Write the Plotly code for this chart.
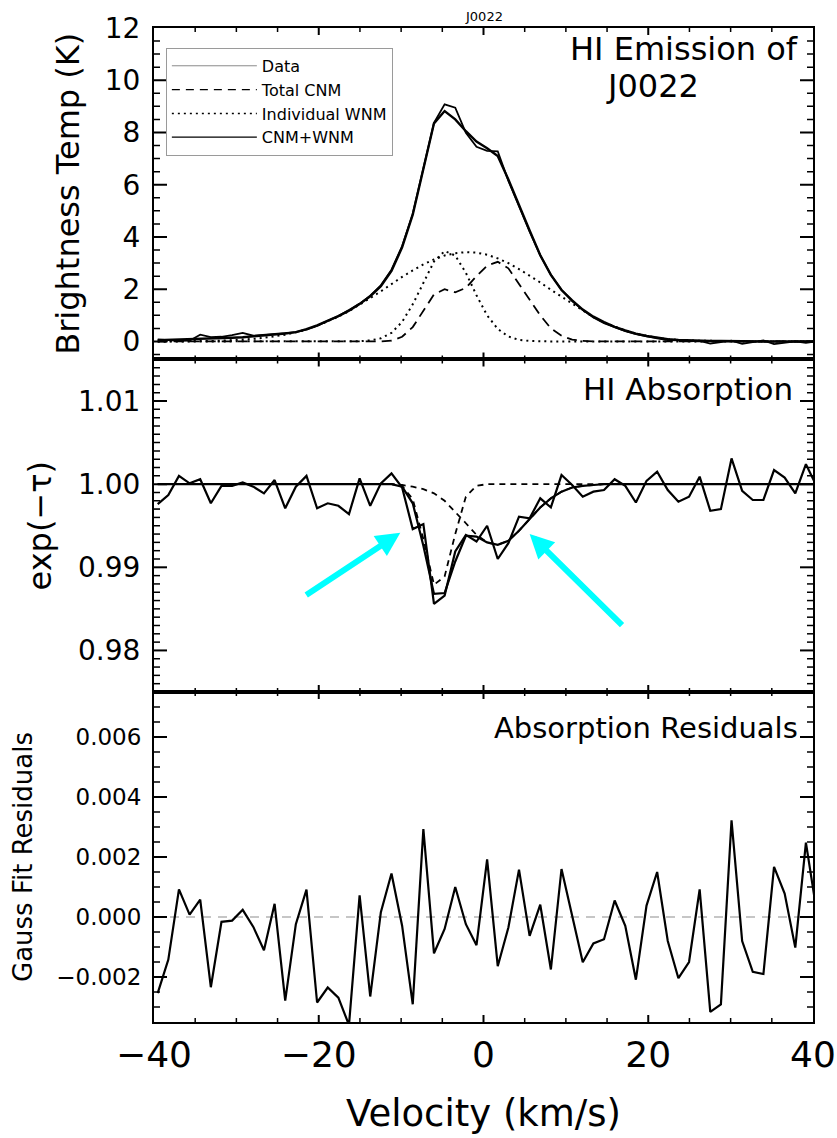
import plotly.graph_objects as go

# ---------------------------------------------------------------- channels
velocity = [
    -39.55, -38.26, -36.97, -35.68, -34.39, -33.10, -31.81, -30.52, -29.23,
    -27.94, -26.65, -25.36, -24.07, -22.78, -21.49, -20.20, -18.91, -17.62,
    -16.33, -15.04, -13.75, -12.46, -11.17, -9.88, -8.59, -7.30, -6.01,
    -4.72, -3.43, -2.14, -0.85, 0.44, 1.73, 3.02, 4.31, 5.60, 6.89, 8.18,
    9.47, 10.76, 12.05, 13.34, 14.63, 15.92, 17.21, 18.50, 19.79, 21.08,
    22.37, 23.66, 24.95, 26.24, 27.53, 28.82, 30.11, 31.40, 32.69, 33.98,
    35.27, 36.56, 37.85, 39.14, 40.43,
]

# ---------------------------------------------------------------- emission (K)
tb_data = [
    0.08, 0.06, 0.02, 0.03, 0.26, 0.17, 0.18, 0.24, 0.33, 0.22, 0.26, 0.30,
    0.33, 0.36, 0.45, 0.60, 0.79, 0.97, 1.20, 1.45, 1.75, 2.15, 2.75, 3.65,
    4.90, 6.70, 8.37, 9.08, 8.95, 7.99, 7.45, 7.30, 7.28, 6.15, 5.15, 4.20,
    3.30, 2.55, 1.98, 1.55, 1.20, 0.92, 0.70, 0.54, 0.40, 0.28, 0.19, 0.12,
    0.05, 0.04, 0.00, 0.02, -0.08, -0.02, 0.03, -0.09, -0.03, 0.04, -0.10,
    -0.04, 0.00, -0.05, 0.00,
]
tb_fit = [
    0.05, 0.06, 0.07, 0.08, 0.09, 0.10, 0.12, 0.14, 0.16, 0.19, 0.22, 0.26,
    0.30, 0.36, 0.47, 0.62, 0.78, 0.97, 1.18, 1.43, 1.73, 2.12, 2.70, 3.60,
    4.85, 6.60, 8.35, 8.82, 8.50, 8.05, 7.65, 7.40, 7.10, 6.20, 5.20, 4.25,
    3.30, 2.55, 1.97, 1.57, 1.22, 0.95, 0.74, 0.56, 0.42, 0.30, 0.21, 0.14,
    0.09, 0.06, 0.04, 0.03, 0.02, 0.02, 0.01, 0.01, 0.01, 0.00, 0.00, 0.00,
    0.00, 0.00, 0.00,
]
tb_cnm_total = [
    0.00, 0.00, 0.00, 0.00, 0.00, 0.00, 0.00, 0.00, 0.00, 0.00, 0.00, 0.00,
    0.00, 0.00, 0.00, 0.00, 0.00, 0.00, 0.00, 0.00, 0.00, 0.00, 0.03, 0.18,
    0.55, 1.20, 1.80, 2.00, 1.88, 2.05, 2.50, 2.90, 3.05, 2.80, 2.20, 1.55,
    1.00, 0.50, 0.22, 0.07, 0.02, 0.00, 0.00, 0.00, 0.00, 0.00, 0.00, 0.00,
    0.00, 0.00, 0.00, 0.00, 0.00, 0.00, 0.00, 0.00, 0.00, 0.00, 0.00, 0.00,
    0.00, 0.00, 0.00,
]
tb_wnm_broad = [
    0.00, 0.00, 0.01, 0.01, 0.01, 0.02, 0.03, 0.05, 0.07, 0.10, 0.14, 0.19,
    0.26, 0.35, 0.46, 0.60, 0.76, 0.95, 1.16, 1.40, 1.66, 1.92, 2.20, 2.47,
    2.72, 2.95, 3.14, 3.29, 3.38, 3.42, 3.40, 3.32, 3.18, 3.00, 2.77, 2.52,
    2.26, 1.98, 1.71, 1.45, 1.18, 0.93, 0.73, 0.56, 0.42, 0.30, 0.21, 0.14,
    0.09, 0.06, 0.04, 0.03, 0.02, 0.01, 0.00, 0.00, 0.00, 0.00, 0.00, 0.00,
    0.00, 0.00, 0.00,
]
tb_wnm_narrow = [
    0.00, 0.00, 0.00, 0.00, 0.00, 0.00, 0.00, 0.00, 0.00, 0.00, 0.00, 0.00,
    0.00, 0.00, 0.00, 0.00, 0.00, 0.00, 0.00, 0.01, 0.04, 0.12, 0.33, 0.75,
    1.42, 2.27, 3.06, 3.46, 3.29, 2.63, 1.77, 1.00, 0.48, 0.19, 0.06, 0.02,
    0.00, 0.00, 0.00, 0.00, 0.00, 0.00, 0.00, 0.00, 0.00, 0.00, 0.00, 0.00,
    0.00, 0.00, 0.00, 0.00, 0.00, 0.00, 0.00, 0.00, 0.00, 0.00, 0.00, 0.00,
    0.00, 0.00, 0.00,
]

# ---------------------------------------------------------------- absorption exp(-tau)
abs_data = [
    0.9976, 0.9987, 1.0010, 1.0001, 1.0006, 0.9977, 0.9998, 0.9998, 1.0002,
    0.9997, 0.9989, 1.0005, 0.9971, 0.9997, 1.0010, 0.9971, 0.9977, 0.9974,
    0.9964, 1.0007, 0.9974, 1.0001, 1.0013, 0.9996, 0.9946, 0.9952, 0.9856,
    0.9866, 0.9919, 0.9939, 0.9931, 0.9950, 0.9910, 0.9929, 0.9961, 0.9959,
    0.9983, 0.9972, 1.0011, 0.9999, 0.9985, 0.9991, 0.9993, 1.0006, 0.9998,
    0.9978, 1.0004, 1.0015, 0.9993, 0.9979, 0.9985, 1.0009, 0.9968, 0.9970,
    1.0031, 0.9992, 0.9981, 0.9981, 1.0017, 1.0008, 0.9989, 1.0024, 0.9998,
]
abs_fit = [
    1.0000, 1.0000, 1.0000, 1.0000, 1.0000, 1.0000, 1.0000, 1.0000, 1.0000,
    1.0000, 1.0000, 1.0000, 1.0000, 1.0000, 1.0000, 1.0000, 1.0000, 1.0000,
    1.0000, 1.0000, 1.0000, 1.0000, 1.0000, 0.9997, 0.9977, 0.9926, 0.9868,
    0.9869, 0.9907, 0.9938, 0.9937, 0.9930, 0.9927, 0.9932, 0.9944, 0.9958,
    0.9972, 0.9983, 0.9991, 0.9996, 0.9998, 0.9999, 1.0000, 1.0000, 1.0000,
    1.0000, 1.0000, 1.0000, 1.0000, 1.0000, 1.0000, 1.0000, 1.0000, 1.0000,
    1.0000, 1.0000, 1.0000, 1.0000, 1.0000, 1.0000, 1.0000, 1.0000, 1.0000,
]
abs_comp_narrow = [
    1.0000, 1.0000, 1.0000, 1.0000, 1.0000, 1.0000, 1.0000, 1.0000, 1.0000,
    1.0000, 1.0000, 1.0000, 1.0000, 1.0000, 1.0000, 1.0000, 1.0000, 1.0000,
    1.0000, 1.0000, 1.0000, 1.0000, 1.0000, 0.9998, 0.9982, 0.9934, 0.9879,
    0.9889, 0.9940, 0.9985, 0.9998, 1.0000, 1.0000, 1.0000, 1.0000, 1.0000,
    1.0000, 1.0000, 1.0000, 1.0000, 1.0000, 1.0000, 1.0000, 1.0000, 1.0000,
    1.0000, 1.0000, 1.0000, 1.0000, 1.0000, 1.0000, 1.0000, 1.0000, 1.0000,
    1.0000, 1.0000, 1.0000, 1.0000, 1.0000, 1.0000, 1.0000, 1.0000, 1.0000,
]
abs_comp_broad = [
    1.0000, 1.0000, 1.0000, 1.0000, 1.0000, 1.0000, 1.0000, 1.0000, 1.0000,
    1.0000, 1.0000, 1.0000, 1.0000, 1.0000, 1.0000, 1.0000, 1.0000, 1.0000,
    1.0000, 1.0000, 1.0000, 1.0000, 1.0000, 0.9999, 0.9997, 0.9994, 0.9989,
    0.9980, 0.9967, 0.9953, 0.9939, 0.9930, 0.9927, 0.9932, 0.9944, 0.9958,
    0.9972, 0.9983, 0.9991, 0.9996, 0.9998, 0.9999, 1.0000, 1.0000, 1.0000,
    1.0000, 1.0000, 1.0000, 1.0000, 1.0000, 1.0000, 1.0000, 1.0000, 1.0000,
    1.0000, 1.0000, 1.0000, 1.0000, 1.0000, 1.0000, 1.0000, 1.0000, 1.0000,
]

# ---------------------------------------------------------------- fit residuals
abs_residual = [
    -0.00254, -0.00142, 0.00092, 0.00008, 0.00058, -0.00234, -0.00016,
    -0.00012, 0.00024, -0.00033, -0.00111, 0.00044, -0.00279, -0.00024,
    0.00091, -0.00285, -0.00235, -0.00269, -0.00360, 0.00072, -0.00265,
    0.00016, 0.00145, -0.00029, -0.00291, 0.00293, -0.00121, -0.00040,
    0.00100, -0.00024, -0.00094, 0.00192, -0.00164, -0.00035, 0.00158,
    -0.00063, 0.00041, -0.00175, 0.00160, 0.00001, -0.00151, -0.00088,
    -0.00074, 0.00055, -0.00029, -0.00209, 0.00038, 0.00150, -0.00080,
    -0.00204, -0.00150, 0.00092, -0.00316, -0.00291, 0.00322, -0.00080,
    -0.00183, -0.00190, 0.00167, 0.00078, -0.00102, 0.00248, 0.00020,
]

# arrows pointing at the broad absorption wings: (tip_v, tip_y, tail_v, tail_y)
wing_arrows = [
    (-10.1, 0.99415, -21.7, 0.98655),
    (5.6, 0.99400, 17.0, 0.98287),
]

# axis ranges and tick spacing (major, minor) for each panel
V_RANGE = (-40, 40)
V_TICKS = (20, 5)
TB_RANGE = (-0.69, 12)
TB_TICKS = (2, 0.5)
ABS_RANGE = (0.975, 1.015)
ABS_TICKS = (0.01, 0.001)
RES_RANGE = (-0.0035, 0.0075)
RES_TICKS = (0.002, 0.0005)

FONT = "DejaVu Sans"
INK = "#000000"
TICK_INK = INK

fig = go.Figure()

# ----- emission panel
fig.add_trace(go.Scatter(x=velocity, y=tb_cnm_total, mode="lines", xaxis="x", yaxis="y",
                         line=dict(color=INK, width=1.8, dash="10px,6px"), showlegend=False))
fig.add_trace(go.Scatter(x=velocity, y=tb_wnm_broad, mode="lines", xaxis="x", yaxis="y",
                         line=dict(color=INK, width=2, dash="2px,4px"), showlegend=False))
fig.add_trace(go.Scatter(x=velocity, y=tb_wnm_narrow, mode="lines", xaxis="x", yaxis="y",
                         line=dict(color=INK, width=2, dash="2px,4px"), showlegend=False))
fig.add_trace(go.Scatter(x=velocity, y=tb_data, mode="lines", xaxis="x", yaxis="y",
                         line=dict(color=INK, width=1.8), showlegend=False))
fig.add_trace(go.Scatter(x=velocity, y=tb_fit, mode="lines", xaxis="x", yaxis="y",
                         line=dict(color=INK, width=2.4), showlegend=False))

# legend entries
legend_styles = [
    ("Data", dict(color="#8a8a8a", width=1)),
    ("Total CNM", dict(color=INK, width=1.3, dash="8px,6px")),
    ("Individual WNM", dict(color=INK, width=1.5, dash="2px,4px")),
    ("CNM+WNM", dict(color=INK, width=1.3)),
]
for name, style in legend_styles:
    fig.add_trace(go.Scatter(x=[None], y=[None], mode="lines", name=name, line=style,
                             xaxis="x", yaxis="y"))

# ----- absorption panel
fig.add_trace(go.Scatter(x=velocity, y=abs_comp_narrow, mode="lines", xaxis="x2", yaxis="y2",
                         line=dict(color=INK, width=1.8, dash="6px,5px"), showlegend=False))
fig.add_trace(go.Scatter(x=velocity, y=abs_comp_broad, mode="lines", xaxis="x2", yaxis="y2",
                         line=dict(color=INK, width=1.8, dash="6px,5px"), showlegend=False))
fig.add_trace(go.Scatter(x=velocity, y=abs_fit, mode="lines", xaxis="x2", yaxis="y2",
                         line=dict(color=INK, width=2.2), showlegend=False))
fig.add_trace(go.Scatter(x=velocity, y=abs_data, mode="lines", xaxis="x2", yaxis="y2",
                         line=dict(color=INK, width=2.2), showlegend=False))

# ----- residual panel
fig.add_trace(go.Scatter(x=velocity, y=abs_residual, mode="lines", xaxis="x3", yaxis="y3",
                         line=dict(color=INK, width=2.2), showlegend=False))

shapes = [dict(type="line", xref="x3 domain", yref="y3", x0=0, x1=1, y0=0, y1=0,
               line=dict(color="#b4b4b4", width=1.5, dash="9px,7px"), layer="below")]


def tick_values(lo, hi, step):
    """Multiples of step strictly inside (lo, hi)."""
    k0 = int(lo / step) - 1
    k1 = int(hi / step) + 1
    vals = [round(k * step, 6) for k in range(k0, k1 + 1)]
    eps = step * 1e-3
    return [v for v in vals if lo + eps < v < hi - eps]


def add_ticks(axis_id, rng, steps, is_x, major_len, minor_len):
    """IDL-style inward ticks on both edges of a panel."""
    major, minor = steps
    majors = tick_values(rng[0], rng[1], major)
    minors = [v for v in tick_values(rng[0], rng[1], minor)
              if all(abs(v - m) > minor * 1e-3 for m in majors)]
    other_ref = ("y" if is_x else "x") + axis_id[1:] + " domain"
    for vals, length, width in ((majors, major_len, 2), (minors, minor_len, 1.5)):
        for v in vals:
            for anchor, sign in ((0, 1), (1, -1)):
                if is_x:
                    shapes.append(dict(type="line", xref=axis_id, yref=other_ref,
                                       ysizemode="pixel", yanchor=anchor, y0=0,
                                       y1=sign * length, x0=v, x1=v,
                                       line=dict(color=TICK_INK, width=width), layer="above"))
                else:
                    shapes.append(dict(type="line", xref=other_ref, yref=axis_id,
                                       xsizemode="pixel", xanchor=anchor, x0=0,
                                       x1=sign * length, y0=v, y1=v,
                                       line=dict(color=TICK_INK, width=width), layer="above"))


for xid in ("x", "x2", "x3"):
    add_ticks(xid, V_RANGE, V_TICKS, True, 7, 4)
add_ticks("y", TB_RANGE, TB_TICKS, False, 13, 6)
add_ticks("y2", ABS_RANGE, ABS_TICKS, False, 13, 6)
add_ticks("y3", RES_RANGE, RES_TICKS, False, 13, 6)

xcommon = dict(range=list(V_RANGE), tick0=0, dtick=V_TICKS[0], ticks="", showline=True,
               linewidth=2, linecolor=INK, mirror=True, showgrid=False, zeroline=False)
ycommon = dict(ticks="", showline=True, linewidth=2, linecolor=INK, mirror=True,
               showgrid=False, zeroline=False, ticklabelstandoff=6)

fig.update_layout(
    width=837, height=1138,
    margin=dict(l=154, r=24, t=28, b=116, autoexpand=False),
    paper_bgcolor="white", plot_bgcolor="white",
    font=dict(family=FONT, color=INK),
    shapes=shapes,
    xaxis=dict(xcommon, domain=[0, 1], anchor="y", showticklabels=False),
    xaxis2=dict(xcommon, domain=[0, 1], anchor="y2", showticklabels=False),
    xaxis3=dict(xcommon, domain=[0, 1], anchor="y3", showticklabels=True,
                tickfont=dict(size=36), ticklabelstandoff=0,
                title=dict(text="Velocity (km/s)", font=dict(size=37), standoff=26)),
    yaxis=dict(ycommon, domain=[0.6665, 1], anchor="x", range=list(TB_RANGE), tick0=0,
               dtick=TB_TICKS[0], tickfont=dict(size=28),
               title=dict(text="Brightness Temp (K)", font=dict(size=32), standoff=16)),
    yaxis2=dict(ycommon, domain=[0.332, 0.6665], anchor="x2", range=list(ABS_RANGE), tick0=1,
                dtick=ABS_TICKS[0], tickformat=".2f", tickfont=dict(size=28),
                title=dict(text="exp(\u2212\u03c4)", font=dict(size=32), standoff=17)),
    yaxis3=dict(ycommon, domain=[0, 0.332], anchor="x3", range=list(RES_RANGE), tick0=0,
                dtick=RES_TICKS[0], tickformat=".3f", tickfont=dict(size=23),
                title=dict(text="Gauss Fit Residuals", font=dict(size=26), standoff=16)),
    legend=dict(x=0.018, y=0.98, xanchor="left", yanchor="top", bgcolor="white",
                bordercolor="#9a9a9a", borderwidth=1, font=dict(size=16), itemwidth=85,
                tracegroupgap=0, traceorder="normal"),
    showlegend=True,
)

annotations = [
    dict(text="J0022", xref="paper", yref="paper", x=0.5, y=1.012, showarrow=False,
         xanchor="center", yanchor="middle", font=dict(size=13)),
    dict(text="HI Emission of", xref="paper", yref="paper", x=0.98, y=0.979, showarrow=False,
         xanchor="right", yanchor="middle", font=dict(size=32)),
    dict(text="J0022", xref="paper", yref="paper", x=0.7557, y=0.9415, showarrow=False,
         xanchor="center", yanchor="middle", font=dict(size=32)),
    dict(text="HI Absorption", xref="paper", yref="paper", x=0.9727, y=0.6368, showarrow=False,
         xanchor="right", yanchor="middle", font=dict(size=31)),
    dict(text="Absorption Residuals", xref="paper", yref="paper", x=0.98, y=0.2958,
         showarrow=False, xanchor="right", yanchor="middle", font=dict(size=29)),
]
for tip_v, tip_y, tail_v, tail_y in wing_arrows:
    annotations.append(dict(text="", x=tip_v, y=tip_y, ax=tail_v, ay=tail_y,
                            xref="x2", yref="y2", axref="x2", ayref="y2", showarrow=True,
                            arrowhead=2, arrowsize=0.8, arrowwidth=6, arrowcolor="#00ffff",
                            standoff=0))
fig.update_layout(annotations=annotations)

fig.write_html("out.html")
